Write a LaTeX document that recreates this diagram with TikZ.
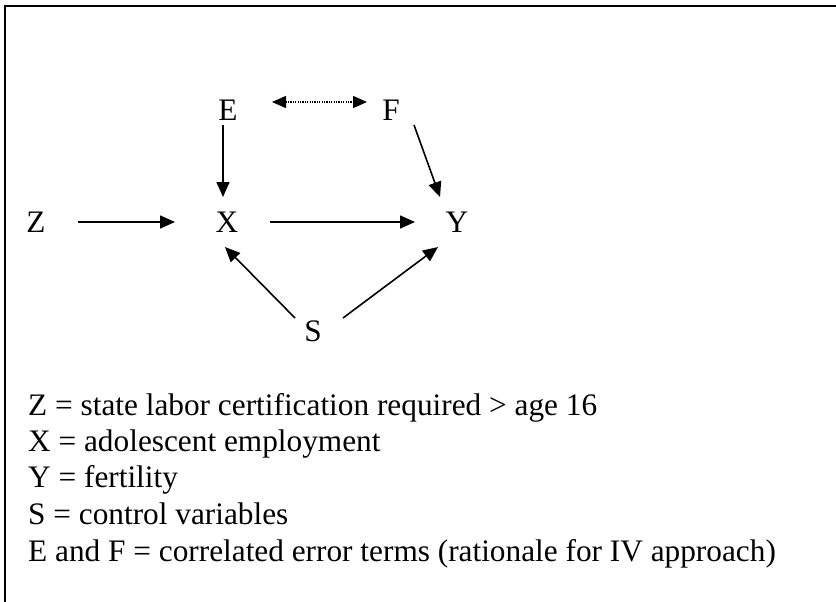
\documentclass[tikz,border=0pt]{standalone}
\usepackage{fontspec}
\setmainfont{Liberation Serif}
\usepackage{tikz}
\usetikzlibrary{arrows.meta}

\begin{document}
\begin{tikzpicture}[
      x=1pt, y=-1pt,
      font=\fontsize{31.3}{36.5}\selectfont,
      var/.style={inner sep=0pt},
      key/.style={inner sep=0pt, anchor=base west},
      arr/.style={-{Triangle[length=15pt, width=13pt]}, line width=1.6pt},
      corr/.style={{Triangle[length=14pt, width=12pt]}-{Triangle[length=14pt, width=12pt]},
                   line width=1.4pt, dash pattern=on 1.2pt off 1.2pt},
    ]
    \useasboundingbox (0,0) rectangle (836,602);

    % ---------- frame ----------
    \draw[line width=2pt] (5,602) -- (5,6) -- (836,6);

    % ---------- variables ----------
    \node[var] (E) at (228,110) {E};
    \node[var] (F) at (391,110) {F};
    \node[var] (Z) at (36,222) {Z};
    \node[var] (X) at (227,222) {X};
    \node[var] (Y) at (457,222) {Y};
    \node[var] (S) at (313,331) {S};

    % ---------- paths ----------
    \draw[arr] ([shift={(42,0)}]Z.center) -- ([shift={(-52,0)}]X.center);
    \draw[arr] ([shift={(43,0)}]X.center) -- ([shift={(-42,0)}]Y.center);
    \draw[arr] ([shift={(-5,15)}]E.center) -- ([shift={(-4,-25)}]X.center);
    \draw[arr] ([shift={(23,15)}]F.center) -- ([shift={(-17,-25)}]Y.center);
    \draw[arr] ([shift={(-18,-13)}]S.center) -- ([shift={(-2,25)}]X.center);
    \draw[arr] ([shift={(30,-13)}]S.center) -- ([shift={(-19,25)}]Y.center);
    \draw[corr] ([shift={(44,-8)}]E.center) -- ([shift={(-24,-8)}]F.center);

    % ---------- key ----------
    \node[key] (kZ) at (28,415) {Z = state labor certification required > age 16};
    \node[key] (kX) at (28,451) {X = adolescent employment};
    \node[key] (kY) at (28,487) {Y = fertility};
    \node[key] (kS) at (28,524) {S = control variables};
    \node[key] (kEF) at (28,561) {E and F = correlated error terms (rationale for IV approach)};

  \end{tikzpicture}
\end{document}
